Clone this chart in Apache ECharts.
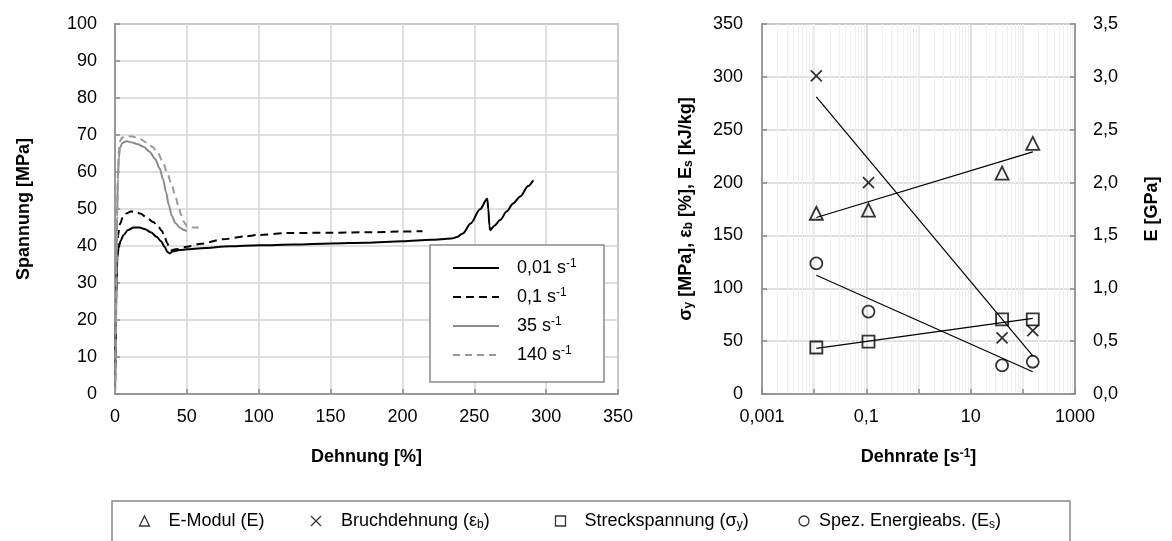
<!DOCTYPE html>
<html><head><meta charset="utf-8">
<script src="https://cdn.jsdelivr.net/npm/echarts@6/dist/echarts.min.js"></script>
<style>html,body{margin:0;padding:0;background:#fff}#c{width:1172px;height:541px}</style>
</head><body><div id="c"></div>
<script>
// ---------- data: left chart (stress-strain curves, [strain %, stress MPa]) ----------
const curveNames = ['0,01 s-1', '0,1 s-1', '35 s-1', '140 s-1'];
const curve001 = [[0,0],[0.4,12],[0.8,25],[1.2,33],[1.7,37],[2.5,39.5],[4,41.5],[6,43],[9,44.3],[13,45],[17,45],[21,44.5],[25,43.7],[29,42.5],[32,41.3],[34.5,39.8],[36.5,38.4],[38,38],[40,38.5],[45,38.9],[50,39.1],[60,39.4],[80,39.9],[100,40.2],[125,40.4],[150,40.7],[175,40.9],[200,41.3],[220,41.7],[234,42],[238,42.4],[242,43.4],[247.5,46.1],[254,49.9],[259,52.8],[259.8,50],[260.5,45.5],[261,44.3],[264,45.5],[268,47],[272.5,49.3],[277,51.5],[282,53.4],[287.5,56.2],[291,57.8]];
const curve01 = [[0,0],[0.5,15],[1,30],[1.5,38],[2.2,43],[3.5,46],[5.5,47.8],[8,48.8],[11,49.3],[14,49.3],[18,48.7],[22,47.7],[26.5,46.5],[30,45.3],[32.5,44.1],[34.5,42.6],[36.3,40.8],[38,39.3],[39.5,38.9],[42,39.1],[50,39.8],[60,40.6],[75,41.8],[90,42.6],[100,43],[120,43.5],[150,43.6],[175,43.7],[200,43.9],[214,44]];
const curve35 = [[0,0],[0.5,15],[1,32],[1.5,48],[2,58],[2.7,64],[3.5,66.5],[5,67.8],[8,68.3],[12,68],[16,67.5],[20,66.8],[24,65.5],[28,63.5],[31,61],[33.5,58],[35.5,54.5],[37.5,51],[39.5,48.2],[42,46.2],[45,45],[48,44.3],[50,44]];
const curve140 = [[0,0],[0.5,16],[1,34],[1.5,50],[2,60],[2.7,66],[3.5,68.3],[5,69.3],[8,69.7],[12,69.6],[17,69],[22,68],[26,66.8],[30,65],[33.5,62.5],[36.5,59.5],[39.5,56.5],[42,53.5],[44,51],[46,48.5],[48,46.5],[50,45.3],[53,45],[57,45],[60,45]];

// ---------- data: right chart (properties vs strain rate) ----------
const rates = [0.011, 0.11, 40, 155];                 // s^-1
const eModul = [1.71, 1.74, 2.09, 2.37];              // GPa (right axis)
const bruchdehnung = [301, 200, 53, 60];              // %
const streckspannung = [44, 49.5, 70.5, 70.5];        // MPa
const energieabs = [123.5, 78, 27, 30.5];             // kJ/kg
// trend lines: [rate, value] endpoints
const trendE = [[0.011, 1.67], [155, 2.29]];
const trendBruch = [[0.011, 281], [155, 36]];
const trendStreck = [[0.011, 43.2], [155, 71.6]];
const trendEnergie = [[0.011, 112.3], [155, 21.1]];
const markerNames = ['E-Modul (E)', 'Bruchdehnung (εb)', 'Streckspannung (σy)', 'Spez. Energieabs. (Es)'];
const rateTickLabels = ['0,001', '0,1', '10', '1000'];

// ---------- chart ----------
const FONT = '"Liberation Sans", Arial, sans-serif';
const zip = (xs, ys) => xs.map((x, i) => [x, ys[i]]);
const comma = s => String(s).replace('.', ',');
const rich = {
  sup: {fontSize: 12, lineHeight: 10, verticalAlign: 'top', fontFamily: FONT, color: '#000'},
  sub: {fontSize: 12, lineHeight: 10, verticalAlign: 'bottom', fontFamily: FONT, color: '#000'},
  supB: {fontSize: 12, lineHeight: 10, verticalAlign: 'top', fontFamily: FONT, fontWeight: 'bold', color: '#000'},
  subB: {fontSize: 12, lineHeight: 10, verticalAlign: 'bottom', fontFamily: FONT, fontWeight: 'bold', color: '#000'}
};
const AX = '#8a8a8a';
const GRID = '#d6d6d6';
const axisLine = {show: true, lineStyle: {color: AX, width: 1.5}};
const axisTick = {show: true, inside: true, length: 5, lineStyle: {color: AX, width: 1.5}};
const axisLabel = {color: '#000', fontSize: 18, fontFamily: FONT};
const nameStyle = {color: '#000', fontSize: 18, fontFamily: FONT, fontWeight: 'bold', rich: rich};
const splitLine = {show: true, lineStyle: {color: GRID, width: 1.5}};

const chart = echarts.init(document.getElementById('c'), null, {renderer: 'canvas'});

const curveStyles = [
  {color: '#000', type: 'solid', width: 2},
  {color: '#000', type: [8, 5], width: 2},
  {color: '#8c8c8c', type: 'solid', width: 2},
  {color: '#9a9a9a', type: [7, 5], width: 2}
];
const curves = [curve001, curve01, curve35, curve140];

const series = curves.map((c, i) => ({
  name: curveNames[i], type: 'line', xAxisIndex: 0, yAxisIndex: 0,
  data: c, showSymbol: false, symbol: 'none', smooth: 0.3, smoothMonotone: 'x',
  lineStyle: curveStyles[i], itemStyle: {color: curveStyles[i].color}, z: 3
}));

const trendSeries = [
  [trendE, 2], [trendBruch, 1], [trendStreck, 1], [trendEnergie, 1]
].map((t, i) => ({
  name: 'trend' + i, type: 'line', xAxisIndex: 1, yAxisIndex: t[1], data: t[0],
  symbol: 'none', silent: true, lineStyle: {color: '#000', width: 1.2}, z: 2
}));

const markerStyle = {color: 'none', borderColor: '#000', borderWidth: 1.8};
const markerDefs = [
  {data: zip(rates, eModul), symbol: 'triangle', size: 13, y: 2},
  {data: zip(rates, bruchdehnung), symbol: 'path://M0,0L10,10M0,10L10,0', size: 11, y: 1},
  {data: zip(rates, streckspannung), symbol: 'rect', size: 12, y: 1},
  {data: zip(rates, energieabs), symbol: 'circle', size: 12, y: 1}
];
const markerSeries = markerDefs.map((m, i) => ({
  name: markerNames[i], type: 'scatter', xAxisIndex: 1, yAxisIndex: m.y, data: m.data,
  symbol: m.symbol, symbolSize: m.size, itemStyle: markerStyle, z: 4
}));

const legendFmt = n => n
  .replace(' s-1', ' s{sup|-1}')
  .replace('(εb)', '(ε{sub|b})')
  .replace('(σy)', '(σ{sub|y})')
  .replace('(Es)', '(E{sub|s})');

const option = {
  backgroundColor: '#fff',
  animation: false,
  textStyle: {fontFamily: FONT},
  grid: [
    {left: 115, right: 554, top: 24, bottom: 147, show: true, borderColor: AX, borderWidth: 1.5},
    {left: 762, right: 97, top: 24, bottom: 147, show: true, borderColor: AX, borderWidth: 1.5}
  ],
  xAxis: [
    {type: 'value', gridIndex: 0, min: 0, max: 350, interval: 50,
     name: 'Dehnung [%]', nameLocation: 'middle', nameGap: 54, nameTextStyle: nameStyle,
     axisLine, axisTick, axisLabel: Object.assign({margin: 14}, axisLabel), splitLine},
    {type: 'log', gridIndex: 1, min: 0.001, max: 1000, logBase: 10,
     name: 'Dehnrate [s{supB|-1}]', nameLocation: 'middle', nameGap: 54, nameTextStyle: nameStyle,
     axisLine, axisTick,
     axisLabel: Object.assign({margin: 14, formatter: v => {
       const s = comma(+v.toPrecision(6));
       return rateTickLabels.indexOf(s) >= 0 ? s : '';
     }}, axisLabel),
     splitLine: {show: true, lineStyle: {color: [GRID, '#e8e8e8'], width: 1.5}},
     minorTick: {show: false, splitNumber: 9},
     minorSplitLine: {show: true, lineStyle: {color: '#f0f0f0', width: 1}}}
  ],
  yAxis: [
    {type: 'value', gridIndex: 0, min: 0, max: 100, interval: 10,
     name: 'Spannung [MPa]', nameLocation: 'middle', nameGap: 82, nameTextStyle: nameStyle,
     axisLine, axisTick, axisLabel: Object.assign({margin: 18}, axisLabel), splitLine},
    {type: 'value', gridIndex: 1, min: 0, max: 350, interval: 50, position: 'left',
     name: 'σ{subB|y} [MPa], ε{subB|b} [%], E{subB|s} [kJ/kg]', nameLocation: 'middle', nameGap: 67,
     nameTextStyle: nameStyle,
     axisLine, axisTick, axisLabel: Object.assign({margin: 19}, axisLabel), splitLine},
    {type: 'value', gridIndex: 1, min: 0, max: 3.5, interval: 0.5, position: 'right',
     name: 'E [GPa]', nameLocation: 'middle', nameGap: 68, nameTextStyle: nameStyle,
     axisLine, axisTick,
     axisLabel: Object.assign({margin: 18, formatter: v => comma(v.toFixed(1))}, axisLabel),
     splitLine: {show: false}}
  ],
  legend: [
    {orient: 'vertical', left: 430, top: 245, data: curveNames,
     itemWidth: 46, itemHeight: 14, itemGap: 9, padding: [13, 17, 17, 22],
     borderColor: AX, borderWidth: 1.5, backgroundColor: '#fff', borderRadius: 0,
     itemStyle: {opacity: 0, borderWidth: 0},
     textStyle: {fontFamily: FONT, fontSize: 18, color: '#000', lineHeight: 20, width: 70, padding: [0, 0, 0, 13], rich},
     formatter: legendFmt, selectedMode: false, z: 10},
    {orient: 'horizontal', left: 112, top: 501,
     data: [
       {name: markerNames[0], textStyle: {width: 140, padding: [0, 0, 0, 14]}},
       {name: markerNames[1], textStyle: {width: 212, padding: [0, 0, 0, 15]}},
       {name: markerNames[2], textStyle: {width: 212, padding: [0, 0, 0, 14]}},
       {name: markerNames[3], textStyle: {width: 222, padding: [0, 0, 0, 5]}}
     ],
     itemWidth: 10, itemHeight: 10, itemGap: 0, padding: [10, 29, 40, 25],
     borderColor: AX, borderWidth: 1.5, borderRadius: 0,
     itemStyle: {borderWidth: 1.3},
     textStyle: {fontFamily: FONT, fontSize: 18, color: '#000', lineHeight: 20, rich},
     formatter: legendFmt, selectedMode: false}
  ],
  series: series.concat(trendSeries, markerSeries)
};
chart.setOption(option);
</script></body></html>
